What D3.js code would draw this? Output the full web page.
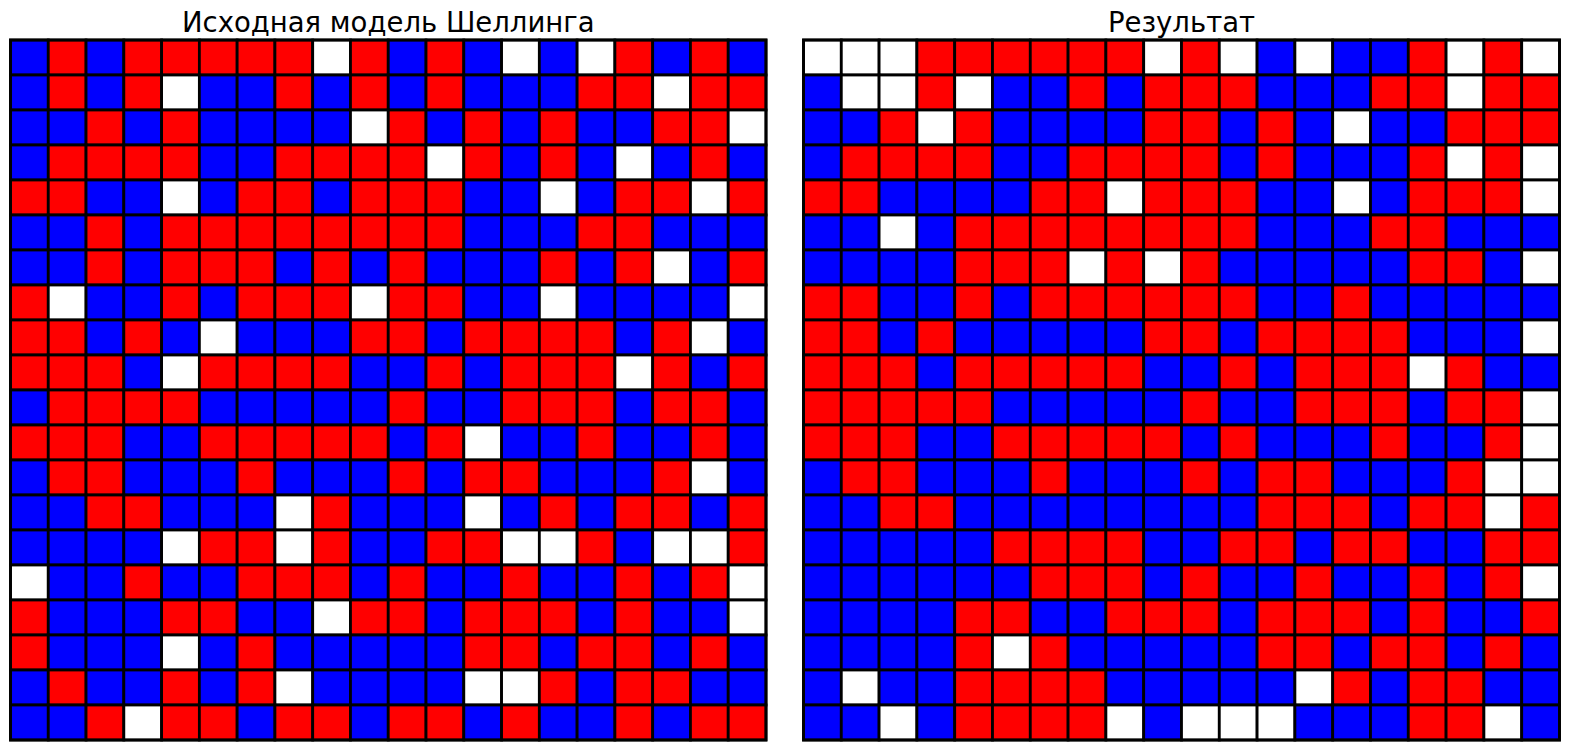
<!DOCTYPE html>
<html>
<head>
<meta charset="utf-8">
<script src="https://cdn.jsdelivr.net/npm/d3@7"></script>
<style>
  html, body { margin: 0; padding: 0; background: #fff; }
  svg { display: block; }
</style>
</head>
<body>
<svg id="chart" width="1570" height="750"></svg>
<script>
// b = blue, r = red, w = empty cell
const titles = ["Исходная модель Шеллинга", "Результат"];

const initialGrid = [
  "brbrrrrrwrbrbwbwrbrb",
  "brbrwbbrbrbrbbbrrwrr",
  "bbrbrbbbbwrbrbrbbrrw",
  "brrrrbbrrrrwrbrbwbrb",
  "rrbbwbrrbrrrbbwbrrwr",
  "bbrbrrrrrrrrbbbrrbbb",
  "bbrbrrrbrbrbbbrbrwbr",
  "rwbbrbrrrwrrbbwbbbbw",
  "rrbrbwbbbrrbrrrrbrwb",
  "rrrbwrrrrbbrbrrrwrbr",
  "brrrrbbbbbrbbrrrbrrb",
  "rrrbbrrrrrbrwbbrbbrb",
  "brrbbbrbbbrbrrbbbrwb",
  "bbrrbbbwrbbbwbrbrrbr",
  "bbbbwrrwrbbrrwwrbwwr",
  "wbbrbbrrrbrbbrbbrbrw",
  "rbbbrrbbwrrbrrrbrbbw",
  "rbbbwbrbbbbbrrbrrbrb",
  "brbbrbrwbbbbwwrbrrbb",
  "bbrwrrbrrbrrbrbbrbrr"
];

const resultGrid = [
  "wwwrrrrrrwrwbwbbrwrw",
  "bwwrwbbrbrrrbbbrrwrr",
  "bbrwrbbbbrrbrbwbbrrr",
  "brrrrbbrrrrbrbbbrwrw",
  "rrbbbbrrwrrrbbwbrrrw",
  "bbwbrrrrrrrrbbbrrbbb",
  "bbbbrrrwrwrbbbbbrrbw",
  "rrbbrbrrrrrrbbrbbbbb",
  "rrbrbbbbbrrbrrrrbbbw",
  "rrrbrrrrrbbrbrrrwrbb",
  "rrrrrbbbbbrbbrrrbrrw",
  "rrrbbrrrrrbrbbbrbbrw",
  "brrbbbrbbbrbrrbbbrww",
  "bbrrbbbbbbbbrrrbrrwr",
  "bbbbbrrrrbbrrbrrbbrr",
  "bbbbbbrrrbrbbrbbrbrw",
  "bbbbrrbbrrrbrrrbrbbr",
  "bbbbrwrbbbbbrrbrrbrb",
  "bwbbrrrrbbbbbwrbrrbb",
  "bbwbrrrrwbwwwbbbrrwb"
];

const colors = { b: "#0000ff", r: "#ff0000", w: "#ffffff" };

const svg = d3.select("#chart");
const panels = [
  { title: titles[0], grid: initialGrid, x0: 10.5, x1: 766 },
  { title: titles[1], grid: resultGrid, x0: 803.5, x1: 1559.5 }
];
const y0 = 40, y1 = 740;

panels.forEach(p => {
  const n = p.grid.length;
  const idx = d3.range(n);
  const x = d3.scaleBand().domain(idx).range([p.x0, p.x1]).padding(0);
  const y = d3.scaleBand().domain(idx).range([y0, y1]).padding(0);

  const cells = [];
  p.grid.forEach((row, i) => {
    row.split("").forEach((c, j) => cells.push({ i, j, c }));
  });

  const g = svg.append("g");
  g.selectAll("rect.cell")
    .data(cells)
    .enter().append("rect")
    .attr("class", "cell")
    .attr("x", d => x(d.j))
    .attr("y", d => y(d.i))
    .attr("width", x.bandwidth())
    .attr("height", y.bandwidth())
    .attr("fill", d => colors[d.c])
    .attr("stroke", "#000")
    .attr("stroke-width", 2.8);

  g.append("rect")
    .attr("x", p.x0).attr("y", y0)
    .attr("width", p.x1 - p.x0).attr("height", y1 - y0)
    .attr("fill", "none")
    .attr("stroke", "#000")
    .attr("stroke-width", 2.8);

  g.append("text")
    .attr("x", (p.x0 + p.x1) / 2)
    .attr("y", 32)
    .attr("text-anchor", "middle")
    .attr("font-family", "DejaVu Sans")
    .attr("font-size", 27.5)
    .attr("fill", "#000")
    .text(p.title);
});
</script>
</body>
</html>
